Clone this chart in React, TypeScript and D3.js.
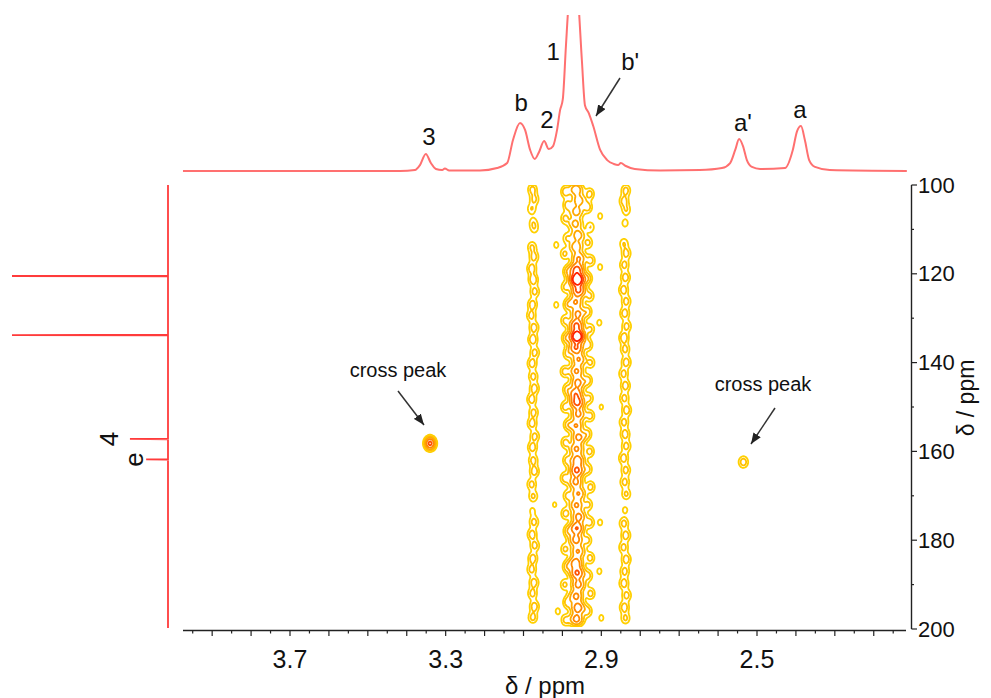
import React, { useMemo } from 'react';
import * as d3 from 'd3';

const W = 991;
const H = 698;

// 1H projection (top trace): [ppm, intensity]
const topTrace: [number, number][] = [
  [3.975, 0], [3.417, 0], [3.379, 0.6], [3.366, 3.8], [3.351, 10.9], [3.338, 5.1],
  [3.325, 1.3], [3.309, 0.6], [3.302, 1.6], [3.291, 0.3], [3.212, 0.3], [3.168, 1.9],
  [3.142, 5.1], [3.127, 19.9], [3.109, 30.8], [3.096, 26.3], [3.083, 13.5], [3.071, 7.7],
  [3.06, 12.2], [3.047, 19.2], [3.035, 14.1], [3.024, 16], [3.014, 26], [3.006, 39],
  [2.999, 46], [2.991, 80], [2.983, 112], [2.973, 135], [2.96, 112], [2.95, 71],
  [2.942, 42], [2.932, 37], [2.921, 29], [2.903, 13.5], [2.885, 7], [2.868, 4.5],
  [2.857, 3.8], [2.85, 5.1], [2.837, 3.2], [2.814, 1.3], [2.749, 0.3], [2.647, 0.6],
  [2.59, 1.9], [2.569, 5.1], [2.556, 13.5], [2.546, 20.5], [2.536, 16], [2.526, 7],
  [2.513, 2.6], [2.492, 1.3], [2.428, 1.9], [2.408, 13.5], [2.397, 25.6], [2.387, 28.8],
  [2.377, 19.9], [2.366, 7], [2.351, 2.6], [2.313, 0.6], [2.115, 0],
];

// peak labels on the top trace: [text, ppm, intensity]
const topLabels: [string, number, number][] = [
  ['3', 3.343, 21.8], ['b', 3.106, 43.6], ['2', 3.04, 32.7], ['1', 3.024, 76.3],
  ["b'", 2.826, 69.9], ["a'", 2.536, 30.8], ['a', 2.39, 39.7],
];

// 13C projection (left trace): [ppm, intensity]
const f1Peaks: [number, number][] = [[120.5, 100], [133.8, 100], [157.2, 24.4], [161.8, 14]];
const f1Labels: [string, number, number][] = [['4', 157.2, 38], ['e', 161.8, 22]];

const xTickLabels = [3.7, 3.3, 2.9, 2.5];
const yTickLabels = [100, 120, 140, 160, 180, 200];

// contour ridges: [f1 ppm, amplitude, f2 offset ppm]
const stripeA: [number, number, number][] = [
  [101.0, 0.9, 0.002], [103.2, 0.8, -0.003], [105.4, 0.7, 0.004], [108.4, 0.55, 0], [109.8, 0.55, -0.003],
  [114.0, 0.8, 0.003], [116.2, 0.9, -0.002], [118.8, 1.0, 0.004], [121.3, 1.1, 0], [124.0, 0.9, -0.004],
  [126.9, 1.0, 0.002], [129.4, 0.9, 0.005], [132.1, 1.0, -0.002], [134.8, 1.1, 0.001], [137.7, 0.9, -0.004],
  [140.2, 1.0, 0.003], [143.1, 0.9, 0], [145.8, 1.0, -0.003], [148.3, 1.0, 0.004], [151.2, 0.9, -0.001],
  [153.7, 1.0, 0.003], [156.6, 0.9, -0.004], [159.1, 1.0, 0.002], [162.0, 0.9, 0], [164.5, 1.0, -0.003],
  [167.4, 0.9, 0.004], [170.1, 0.8, 0], [173.4, 0.45, 0.002], [175.9, 0.9, -0.002], [178.7, 1.0, 0.003],
  [181.2, 0.9, -0.004], [184.1, 1.0, 0.001], [186.6, 0.9, 0.004], [189.5, 1.0, -0.002], [192.0, 0.9, 0.002],
  [194.9, 1.0, -0.003], [197.4, 0.9, 0.001],
];
const stripeC: [number, number, number][] = [
  [101.2, 0.9, -0.002], [103.6, 0.9, 0.003], [105.6, 0.7, -0.003], [108.6, 0.5, 0], [113.2, 0.7, 0.003],
  [115.4, 0.9, -0.003], [118.0, 0.9, 0.002], [120.8, 1.0, -0.001], [123.6, 1.0, 0.004], [126.2, 0.9, -0.003],
  [128.9, 1.0, 0.001], [131.8, 0.9, -0.004], [134.4, 1.1, 0.003], [137.0, 0.9, 0], [139.9, 1.0, -0.003],
  [142.5, 0.9, 0.004], [145.2, 1.0, -0.001], [148.0, 0.9, 0.002], [150.7, 1.0, -0.004], [153.4, 0.9, 0.003],
  [156.1, 1.0, 0], [158.8, 0.9, -0.003], [161.5, 1.0, 0.004], [164.2, 0.9, -0.002], [166.9, 0.9, 0.001],
  [169.6, 0.8, -0.003], [173.2, 0.45, 0], [176.2, 0.9, 0.003], [178.9, 1.0, -0.002], [181.6, 0.9, 0.004],
  [184.3, 1.0, -0.003], [187.0, 0.9, 0.001], [189.7, 1.0, 0.003], [192.4, 0.9, -0.004], [195.1, 1.0, 0.002],
  [197.6, 0.8, -0.001],
];
const stripeMain: [number, number, number][] = [
  [101.0, 1.8, 0.003], [103.5, 1.6, -0.004], [106.0, 1.5, 0.002], [108.7, 1.4, 0.005], [111.3, 1.6, -0.002],
  [113.9, 1.7, 0.003], [116.5, 2.0, -0.004], [119.0, 3.6, 0.001], [121.3, 7.0, 0], [123.8, 3.4, -0.003],
  [126.4, 2.0, 0.004], [129.0, 2.2, -0.002], [131.6, 3.4, 0.002], [134.1, 6.8, 0], [136.7, 3.2, 0.003],
  [139.3, 2.0, -0.004], [141.9, 2.1, 0.002], [144.5, 2.3, -0.002], [147.0, 2.8, 0.004], [149.0, 3.6, 0],
  [151.6, 2.2, -0.003], [154.2, 2.0, 0.003], [156.8, 2.3, -0.004], [159.4, 2.1, 0.002], [162.0, 2.6, -0.001],
  [164.3, 3.4, 0.001], [166.9, 2.2, 0.004], [169.5, 2.0, -0.003], [172.1, 2.1, 0.002], [174.7, 2.3, -0.004],
  [177.3, 3.2, 0.001], [179.9, 2.4, 0.003], [182.5, 2.0, -0.002], [185.1, 2.6, 0.004], [187.4, 3.3, 0],
  [190.0, 2.3, -0.003], [192.6, 2.2, 0.003], [195.2, 2.6, -0.002], [197.8, 2.4, 0.002],
];
const stripeSideL: [number, number, number][] = [
  [101.5, 1.0, 0.002], [104.5, 0.9, -0.003], [107.5, 0.8, 0.003], [112.0, 0.7, -0.002], [115.5, 0.8, 0.004],
  [119.5, 0.9, -0.003], [123.0, 0.8, 0.002], [127.0, 0.9, -0.004], [130.5, 0.8, 0.003], [134.5, 1.0, 0],
  [138.0, 0.8, -0.003], [142.0, 0.9, 0.004], [146.0, 0.8, -0.002], [150.0, 0.9, 0.003], [154.0, 0.8, -0.004],
  [158.0, 0.9, 0.002], [162.0, 0.8, -0.002], [166.0, 0.9, 0.004], [170.0, 0.8, -0.003], [174.0, 0.9, 0.002],
  [178.0, 0.9, -0.004], [182.0, 0.8, 0.003], [186.0, 0.9, -0.002], [190.0, 0.8, 0.004], [194.0, 0.9, -0.003],
  [198.0, 0.8, 0.002],
];
const stripeSideR: [number, number, number][] = [
  [102.0, 0.9, -0.002], [105.0, 0.9, 0.003], [109.5, 0.7, -0.003], [113.0, 0.8, 0.002], [117.0, 0.9, -0.004],
  [121.0, 0.9, 0.003], [125.0, 0.8, -0.002], [128.5, 0.9, 0.004], [132.5, 0.8, -0.003], [136.0, 0.9, 0.002],
  [140.0, 0.8, -0.004], [144.0, 0.9, 0.003], [148.0, 0.8, 0], [152.0, 0.9, -0.003], [156.0, 0.8, 0.004],
  [160.0, 0.9, -0.002], [164.0, 0.8, 0.003], [168.0, 0.9, -0.004], [172.0, 0.8, 0.002], [176.0, 0.9, -0.002],
  [180.0, 0.8, 0.004], [184.0, 0.9, -0.003], [188.0, 0.8, 0.002], [192.0, 0.9, -0.004], [196.0, 0.8, 0.003],
];
// stray loops: [f2 ppm, f1 ppm, amplitude]
const strays: [number, number, number][] = [
  [3.016, 113.5, 0.5], [3.016, 127.0, 0.5], [3.02, 172.0, 0.45], [3.012, 196.0, 0.5],
  [2.903, 107.0, 0.5], [2.903, 118.5, 0.5], [2.905, 131.0, 0.5], [2.9, 150.0, 0.45],
  [2.903, 176.0, 0.5], [2.905, 187.0, 0.5], [2.9, 197.5, 0.5],
];
const crossPeaks: [number, number, number][] = [[3.34, 158.2, 3.6], [2.535, 162.4, 1.0]];

const levels = [0.35, 0.7, 1.2, 2.0, 3.2, 4.5];
const levelColors = ['#ffd000', '#ffc000', '#ffa800', '#ff8800', '#ff5000', '#ff2000'];

const x = d3.scaleLinear().domain([3.7, 2.5]).range([290, 757]);
const y = d3.scaleLinear().domain([100, 200]).range([185, 629]);
const topY = d3.scaleLinear().domain([0, 100]).range([171, 15]);
const leftX = d3.scaleLinear().domain([0, 100]).range([168, 12]);

type Blob = { f2: number; f1: number; amp: number; sx: number; sy: number };

function contourLayer(blobs: Blob[], x0: number, y0: number, w: number, h: number) {
  const vals = new Float64Array(w * h);
  for (const b of blobs) {
    const cx = x(b.f2) - x0;
    const cy = y(b.f1) - y0;
    const i0 = Math.max(0, Math.floor(cx - 4 * b.sx));
    const i1 = Math.min(w - 1, Math.ceil(cx + 4 * b.sx));
    const j0 = Math.max(0, Math.floor(cy - 4 * b.sy));
    const j1 = Math.min(h - 1, Math.ceil(cy + 4 * b.sy));
    for (let j = j0; j <= j1; j++) {
      for (let i = i0; i <= i1; i++) {
        const dx = i + 0.5 - cx;
        const dy = j + 0.5 - cy;
        vals[j * w + i] += b.amp * Math.exp(-(dx * dx) / (2 * b.sx * b.sx) - (dy * dy) / (2 * b.sy * b.sy));
      }
    }
  }
  const path = d3.geoPath();
  return d3
    .contours()
    .size([w, h])
    .thresholds(levels)(Array.from(vals))
    .map((c, k) => ({ d: path(c) || '', color: levelColors[k] }));
}

const font = "'Liberation Sans', Arial, sans-serif";

const Arrow = ({ x1, y1, x2, y2 }: { x1: number; y1: number; x2: number; y2: number }) => (
  <line x1={x1} y1={y1} x2={x2} y2={y2} stroke="#333" strokeWidth={1.5} markerEnd="url(#ah)" />
);

export default function App() {
  const layers = useMemo(() => {
    const blobs: Blob[] = [];
    stripeA.forEach(([f1, a, o]) => blobs.push({ f2: 3.075 + o, f1, amp: a, sx: 3.2, sy: 4 }));
    stripeC.forEach(([f1, a, o]) => blobs.push({ f2: 2.839 + o, f1, amp: a, sx: 3.2, sy: 4 }));
    stripeMain.forEach(([f1, a, o]) => blobs.push({ f2: 2.962 + o, f1, amp: a, sx: 4.5, sy: 4.2 }));
    stripeSideL.forEach(([f1, a, o]) => blobs.push({ f2: 2.9905 + o, f1, amp: a, sx: 3, sy: 4 }));
    stripeSideR.forEach(([f1, a, o]) => blobs.push({ f2: 2.9314 + o, f1, amp: a, sx: 3, sy: 4 }));
    strays.forEach(([f2, f1, a]) => blobs.push({ f2, f1, amp: a, sx: 2.5, sy: 3.5 }));
    const main = { x0: 505, y0: 185, layers: contourLayer(blobs, 505, 185, 150, 442) };
    const cps = crossPeaks.map(([f2, f1, a]) => {
      const x0 = Math.round(x(f2)) - 20;
      const y0 = Math.round(y(f1)) - 20;
      return { x0, y0, layers: contourLayer([{ f2, f1, amp: a, sx: 3.3, sy: 4.0 }], x0, y0, 40, 40) };
    });
    return [main, ...cps];
  }, []);

  const topLine = d3
    .line<[number, number]>()
    .x(d => x(d[0]))
    .y(d => topY(d[1]))
    .curve(d3.curveMonotoneX);

  const f1Pts: [number, number][] = [[100, 0]];
  f1Peaks.forEach(([p, v]) => {
    f1Pts.push([p - 0.08, 0], [p, v], [p + 0.08, 0]);
  });
  f1Pts.push([199.8, 0]);
  const leftLine = d3
    .line<[number, number]>()
    .x(d => leftX(d[1]))
    .y(d => y(d[0]));

  const xMinor = d3.range(43, 80).map(k => k * 0.05);
  const yMinor = d3.range(100, 201, 10);

  return (
    <svg width={W} height={H} style={{ position: 'absolute', left: 0, top: 0, background: '#fff' }} fontFamily={font}>
      <defs>
        <marker id="ah" viewBox="0 0 10 8" refX="10" refY="4" markerWidth="11" markerHeight="9" markerUnits="userSpaceOnUse" orient="auto">
          <path d="M0,0 L10,4 L0,8 z" fill="#222" />
        </marker>
        <clipPath id="topclip">
          <rect x={180} y={15} width={730} height={170} />
        </clipPath>
        <clipPath id="plotclip">
          <rect x={183} y={185} width={725} height={442} />
        </clipPath>
      </defs>

      {/* top 1H projection */}
      <path d={topLine(topTrace) || ''} fill="none" stroke="#ff7070" strokeWidth={2} clipPath="url(#topclip)" />
      {topLabels.map(([t, p, v]) => (
        <text key={t} x={x(p)} y={topY(v)} fontSize={24} textAnchor="middle" dominantBaseline="central" fill="#111">
          {t}
        </text>
      ))}
      <Arrow x1={620} y1={78} x2={596} y2={116} />

      {/* left 13C projection */}
      <path d={leftLine(f1Pts) || ''} fill="none" stroke="#ff3b3b" strokeWidth={1.8} />
      {f1Labels.map(([t, p, v]) => (
        <text
          key={t}
          transform={`translate(${leftX(v)},${y(p)}) rotate(-90)`}
          fontSize={26}
          textAnchor="middle"
          dominantBaseline="central"
          fill="#111"
        >
          {t}
        </text>
      ))}

      {/* contours */}
      <g clipPath="url(#plotclip)">
        {layers.map((L, li) => (
          <g key={li} transform={`translate(${L.x0},${L.y0})`}>
            {L.layers.map((c, k) => (
              <path key={k} d={c.d} fill="none" stroke={c.color} strokeWidth={1.8} />
            ))}
          </g>
        ))}
      </g>

      {/* cross peak annotations */}
      <text x={398} y={370} fontSize={20} textAnchor="middle" dominantBaseline="central" fill="#111">cross peak</text>
      <Arrow x1={398} y1={391} x2={424} y2={425} />
      <text x={763} y={384} fontSize={20} textAnchor="middle" dominantBaseline="central" fill="#111">cross peak</text>
      <Arrow x1={775} y1={408} x2={751} y2={444} />

      {/* x axis */}
      <line x1={183} x2={906} y1={630.5} y2={630.5} stroke="#222" strokeWidth={1.4} />
      {xMinor.map(v => {
        const major = Math.round(v * 100) % 10 === 0;
        return <line key={v} x1={x(v)} x2={x(v)} y1={630.5} y2={major ? 636 : 633.5} stroke="#222" strokeWidth={1.2} />;
      })}
      {xTickLabels.map(v => (
        <text key={v} x={x(v)} y={659} fontSize={25} textAnchor="middle" dominantBaseline="central" fill="#111">
          {v.toFixed(1)}
        </text>
      ))}
      <text x={545} y={685} fontSize={24} textAnchor="middle" dominantBaseline="central" fill="#111">δ / ppm</text>

      {/* y axis (right) */}
      <line x1={911.5} x2={911.5} y1={185} y2={629} stroke="#222" strokeWidth={1.4} />
      {yMinor.map(v => (
        <line key={v} x1={911.5} x2={v % 20 === 0 ? 917 : 914} y1={y(v)} y2={y(v)} stroke="#222" strokeWidth={1.2} />
      ))}
      {yTickLabels.map(v => (
        <text key={v} x={918} y={y(v)} fontSize={22} textAnchor="start" dominantBaseline="central" fill="#111">
          {v}
        </text>
      ))}
      <text transform="translate(966,398) rotate(-90)" fontSize={23} textAnchor="middle" dominantBaseline="central" fill="#111">
        δ / ppm
      </text>
    </svg>
  );
}
